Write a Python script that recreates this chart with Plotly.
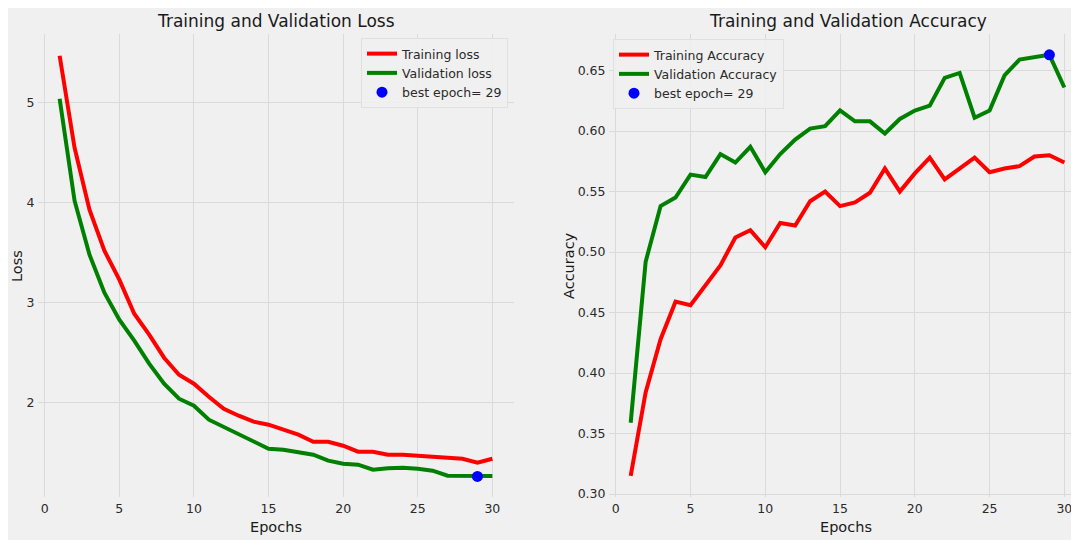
import plotly.graph_objects as go

epochs = list(range(1, 31))
train_loss = [5.47, 4.55, 3.93, 3.52, 3.23, 2.89, 2.68, 2.45, 2.28, 2.19,
              2.06, 1.94, 1.87, 1.81, 1.78, 1.73, 1.68, 1.61, 1.61, 1.57,
              1.51, 1.51, 1.48, 1.48, 1.47, 1.46, 1.44, 1.44, 1.40, 1.44]
val_loss = [5.04, 4.02, 3.48, 3.10, 2.83, 2.62, 2.39, 2.19, 2.04, 1.97,
            1.83, 1.76, 1.68, 1.62, 1.54, 1.53, 1.50, 1.48, 1.42, 1.39,
            1.38, 1.33, 1.345, 1.35, 1.34, 1.32, 1.27, 1.266, 1.263, 1.266]
train_acc = [0.315, 0.384, 0.428, 0.459, 0.456, 0.473, 0.489, 0.512, 0.518, 0.504,
             0.524, 0.522, 0.542, 0.550, 0.538, 0.541, 0.549, 0.569, 0.550, 0.565,
             0.578, 0.560, 0.569, 0.578, 0.566, 0.569, 0.571, 0.579, 0.580, 0.574]
val_acc = [0.359, 0.492, 0.538, 0.545, 0.564, 0.562, 0.581, 0.574, 0.587, 0.566,
           0.581, 0.593, 0.602, 0.604, 0.617, 0.608, 0.608, 0.598, 0.610, 0.617,
           0.621, 0.644, 0.648, 0.611, 0.617, 0.646, 0.659, 0.661, 0.663, 0.636]
best_loss_epoch = 29
best_acc_epoch = 29
loss_ticks = [2, 3, 4, 5]
acc_ticks = [0.30, 0.35, 0.40, 0.45, 0.50, 0.55, 0.60, 0.65]
epoch_ticks = [0, 5, 10, 15, 20, 25, 30]

FONT = "DejaVu Sans"
TXT = "#2a2a2a"
GRID = "#dadada"
BG = "#f0f0f0"

OFF = 8  # page body margin of the html page
W, H = 1079 - OFF, 540 - OFF
ML, MR, MT, MB = 38 - OFF, 0, 34 - OFF, 540 - 497
PW = W - ML - MR
PH = H - MT - MB


def px_x(p):
    # p: pixel x in the screenshot
    return (p - OFF - ML) / PW


def px_y(p):
    # p: pixel y in the screenshot
    return (H - MB - (p - OFF)) / PH


fig = go.Figure()

fig.add_trace(go.Scatter(x=epochs, y=train_loss, mode="lines", name="Training loss",
                         line=dict(color="red", width=4), xaxis="x", yaxis="y", legend="legend"))
fig.add_trace(go.Scatter(x=epochs, y=val_loss, mode="lines", name="Validation loss",
                         line=dict(color="green", width=4), xaxis="x", yaxis="y", legend="legend"))
fig.add_trace(go.Scatter(x=[best_loss_epoch], y=[val_loss[best_loss_epoch - 1]], mode="markers",
                         name="best epoch= %d" % best_loss_epoch,
                         marker=dict(color="blue", size=11), xaxis="x", yaxis="y", legend="legend"))

fig.add_trace(go.Scatter(x=epochs, y=train_acc, mode="lines", name="Training Accuracy",
                         line=dict(color="red", width=4), xaxis="x2", yaxis="y2", legend="legend2"))
fig.add_trace(go.Scatter(x=epochs, y=val_acc, mode="lines", name="Validation Accuracy",
                         line=dict(color="green", width=4), xaxis="x2", yaxis="y2", legend="legend2"))
fig.add_trace(go.Scatter(x=[best_acc_epoch], y=[val_acc[best_acc_epoch - 1]], mode="markers",
                         name="best epoch= %d" % best_acc_epoch,
                         marker=dict(color="blue", size=11), xaxis="x2", yaxis="y2", legend="legend2"))

axis_common = dict(showgrid=True, gridcolor=GRID, gridwidth=1.3, zeroline=False, showline=False,
                   ticks="outside", ticklen=0, tickcolor="rgba(0,0,0,0)",
                   tickfont=dict(family=FONT, size=12.5, color=TXT))

ann_font_title = dict(family=FONT, size=17, color="#1a1a1a")
ann_font_lab = dict(family=FONT, size=14.5, color="#1a1a1a")

legend_common = dict(bgcolor="rgba(240,240,240,0.85)", bordercolor="#e0e0e0", borderwidth=1,
                     font=dict(family=FONT, size=12.5, color=TXT), yanchor="top",
                     tracegroupgap=0, itemwidth=30)

fig.update_layout(
    width=W, height=H,
    margin=dict(l=ML, r=MR, t=MT, b=MB),
    paper_bgcolor=BG, plot_bgcolor=BG,
    showlegend=True,
    xaxis=dict(domain=[0, px_x(514)], range=[-0.45, 31.45], tickvals=epoch_ticks,
               anchor="y", **axis_common),
    yaxis=dict(domain=[0, 1], range=[1.057, 5.687], tickvals=loss_ticks,
               anchor="x", **axis_common),
    xaxis2=dict(domain=[px_x(609), 1], range=[-0.45, 30.98], tickvals=epoch_ticks,
                anchor="y2", **axis_common),
    yaxis2=dict(domain=[0, 1], range=[0.2976, 0.6802], tickvals=acc_ticks, tickformat=".2f",
                anchor="x2", **axis_common),
    legend=dict(x=px_x(508), y=px_y(38), xanchor="right", **legend_common),
    legend2=dict(x=px_x(613), y=px_y(39), xanchor="left", **legend_common),
    annotations=[
        dict(text="Training and Validation Loss", x=px_x(276), y=px_y(21), xref="paper", yref="paper",
             showarrow=False, xanchor="center", yanchor="middle", font=ann_font_title),
        dict(text="Training and Validation Accuracy", x=px_x(848), y=px_y(21), xref="paper", yref="paper",
             showarrow=False, xanchor="center", yanchor="middle", font=ann_font_title),
        dict(text="Epochs", x=px_x(276), y=px_y(527), xref="paper", yref="paper",
             showarrow=False, xanchor="center", yanchor="middle", font=ann_font_lab),
        dict(text="Epochs", x=px_x(846), y=px_y(527), xref="paper", yref="paper",
             showarrow=False, xanchor="center", yanchor="middle", font=ann_font_lab),
        dict(text="Loss", x=px_x(17), y=px_y(266), xref="paper", yref="paper", textangle=-90,
             showarrow=False, xanchor="center", yanchor="middle", font=ann_font_lab),
        dict(text="Accuracy", x=px_x(569), y=px_y(266), xref="paper", yref="paper", textangle=-90,
             showarrow=False, xanchor="center", yanchor="middle", font=ann_font_lab),
    ],
)

fig.write_html("out.html")
